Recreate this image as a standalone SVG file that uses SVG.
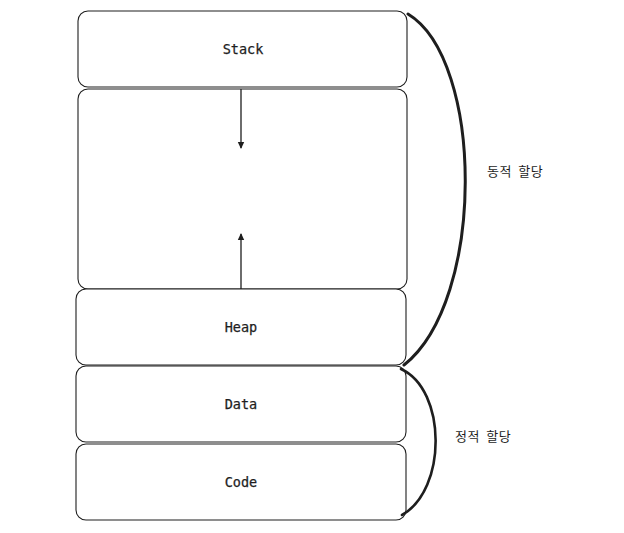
<svg xmlns="http://www.w3.org/2000/svg" width="624" height="533" viewBox="0 0 624 533">
<style>
.box{fill:#fff;stroke:#1e1e1e;stroke-width:1.1}
.lbl{font-family:"DejaVu Sans Mono","Liberation Mono",monospace;font-size:13.5px;fill:#1e1e1e;stroke:#1e1e1e;stroke-width:0.25;text-anchor:middle}
.kr{font-family:"Noto Sans CJK KR","Noto Sans",sans-serif;font-size:13px;fill:#1e1e1e;letter-spacing:0.5px;word-spacing:3px}
.arr{stroke:#1e1e1e;stroke-width:1.3;fill:none}
.brace{stroke:#1e1e1e;fill:none;stroke-linecap:round}
</style>
<defs>
<marker id="ah" markerWidth="8" markerHeight="8" refX="6" refY="4" orient="auto" markerUnits="userSpaceOnUse">
<path d="M0,0.8 L7,4 L0,7.2 Z" fill="#1e1e1e"/>
</marker>
</defs>
<rect width="624" height="533" fill="#fff"/>
<g id="stack"><rect class="box" x="78" y="11" width="329" height="76" rx="10"/><text class="lbl" x="243" y="54">Stack</text></g>
<g id="free"><rect class="box" x="78" y="89" width="329" height="200" rx="10"/></g>
<g id="heap"><rect class="box" x="76" y="289" width="330" height="76" rx="10"/><text class="lbl" x="241" y="332">Heap</text></g>
<g id="data"><rect class="box" x="76" y="366" width="330" height="76" rx="10"/><text class="lbl" x="241" y="409">Data</text></g>
<g id="code"><rect class="box" x="76" y="444" width="330" height="76" rx="10"/><text class="lbl" x="241" y="487">Code</text></g>
<g id="connectors">
<path class="arr" d="M241,89 L241,148" marker-end="url(#ah)"/>
<path class="arr" d="M241,289 L241,234" marker-end="url(#ah)"/>
<path class="brace" stroke-width="3" d="M408,14 C484,60 486,300 404,365"/>
<path class="brace" stroke-width="2.6" d="M401,369 C447,390 447,490 402,515"/>
</g>
<g id="labels">
<text class="kr" x="487" y="176">동적 할당</text>
<text class="kr" x="455" y="441">정적 할당</text>
</g>
</svg>
